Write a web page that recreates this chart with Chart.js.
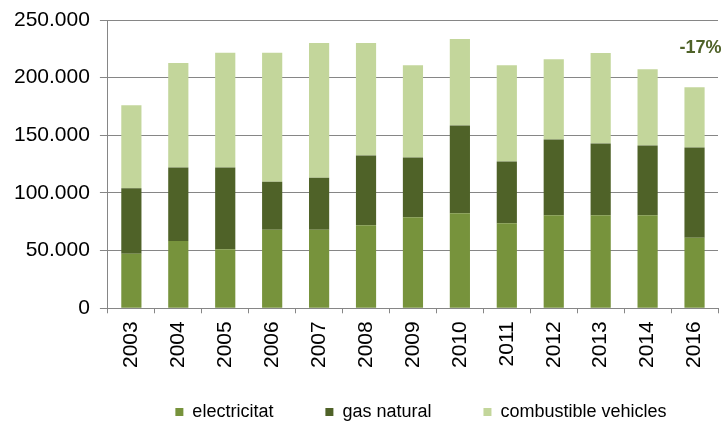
<!DOCTYPE html>
<html>
<head>
<meta charset="utf-8">
<script src="https://cdn.jsdelivr.net/npm/chart.js@4"></script>
<style>
  html, body { margin: 0; padding: 0; background: #ffffff; }
  #wrap { width: 724px; height: 421px; }
</style>
</head>
<body>
<div id="wrap"><canvas id="energyChart"></canvas></div>
<script>
  // categories and series
  const years = ['2003', '2004', '2005', '2006', '2007', '2008', '2009', '2010', '2011', '2012', '2013', '2014', '2016'];
  const electricitat = [47300, 58400, 51100, 68200, 68200, 72000, 79000, 82500, 73800, 80700, 80700, 80700, 61200];
  const gasNatural = [56900, 63600, 70900, 41500, 45000, 60400, 51700, 76000, 53400, 65600, 62200, 60400, 78200];
  const combustibleVehicles = [71800, 90800, 99500, 111800, 116800, 97600, 80100, 75000, 83600, 69700, 78400, 66200, 52200];
  const yTicks = [0, 50000, 100000, 150000, 200000, 250000];
  const changeLabel = '-17%';

  const fontFamily = '"Liberation Sans", Arial, sans-serif';
  const axisGray = '#868686';
  const legendOverlap = 25;

  // etiqueta -17% sobre l'última barra + ajust de la llegenda
  const changeLabelPlugin = {
    id: 'changeLabel',
    afterInit(chart) {
      // la llegenda ocupa menys alçada al layout (els anys poden baixar més)
      const origFit = chart.legend.fit;
      chart.legend.fit = function() {
        origFit.call(this);
        this.height -= legendOverlap;
      };
    },
    afterLayout(chart) {
      const lg = chart.legend;
      lg.top -= legendOverlap;
      lg.left += 8;
      lg.right += 8;
    },
    afterDatasetsDraw(chart) {
      const { ctx, scales } = chart;
      const x = scales.x.getPixelForValue(years.length - 1) + 6;
      const y = scales.y.getPixelForValue(225600);
      ctx.save();
      ctx.font = 'bold 18px ' + fontFamily;
      ctx.fillStyle = '#4F6228';
      ctx.textAlign = 'center';
      ctx.textBaseline = 'middle';
      ctx.fillText(changeLabel, x, y);
      ctx.restore();
    }
  };

  const ctx = document.getElementById('energyChart').getContext('2d');

  new Chart(ctx, {
    type: 'bar',
    data: {
      labels: years,
      datasets: [
        { label: 'electricitat', data: electricitat, backgroundColor: '#77933C' },
        { label: 'gas natural', data: gasNatural, backgroundColor: '#4F6228' },
        { label: 'combustible vehicles', data: combustibleVehicles, backgroundColor: '#C3D69B' }
      ]
    },
    options: {
      responsive: true,
      maintainAspectRatio: false,
      animation: false,
      datasets: {
        bar: { categoryPercentage: 1, barPercentage: 0.43 }
      },
      layout: {
        padding: { top: 20, right: 6, bottom: -10, left: 4 }
      },
      plugins: {
        legend: {
          position: 'bottom',
          fullSize: false,
          labels: {
            boxWidth: 8,
            boxHeight: 8,
            padding: 52,
            color: '#000000',
            font: { family: fontFamily, size: 18 }
          }
        },
        tooltip: { enabled: false }
      },
      scales: {
        x: {
          stacked: true,
          afterFit(axis) {
            axis.paddingLeft = 0;
            axis.paddingRight = 0;
          },
          grid: {
            offset: true,
            drawOnChartArea: false,
            color: axisGray,
            tickLength: 5
          },
          border: { color: axisGray },
          ticks: {
            color: '#000000',
            font: { family: fontFamily, size: 21 },
            minRotation: 90,
            maxRotation: 90,
            padding: 8
          }
        },
        y: {
          stacked: true,
          min: 0,
          max: 250000,
          afterBuildTicks(axis) {
            axis.ticks = yTicks.map(v => ({ value: v }));
          },
          afterFit(axis) {
            axis.paddingTop = 0;
            axis.paddingBottom = 0;
          },
          grid: {
            color: axisGray,
            tickLength: 8
          },
          border: { color: axisGray },
          ticks: {
            color: '#000000',
            font: { family: fontFamily, size: 21 },
            padding: 10,
            callback: function(value) {
              return String(value).replace(/\B(?=(\d{3})+(?!\d))/g, '.');
            }
          }
        }
      }
    },
    plugins: [changeLabelPlugin]
  });
</script>
</body>
</html>
